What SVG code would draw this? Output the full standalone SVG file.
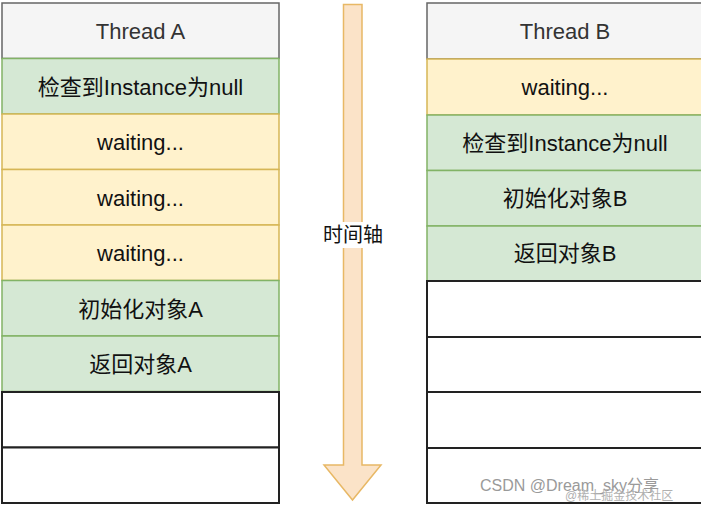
<svg xmlns="http://www.w3.org/2000/svg" width="701" height="505" viewBox="0 0 701 505">
<style>
text{font-family:"Liberation Sans","Noto Sans CJK SC",sans-serif;font-size:22px;text-anchor:middle;dominant-baseline:central;fill:#111}
.h{fill:#f5f5f5;stroke:#666;stroke-width:1.5}
.g{fill:#d5e8d4;stroke:#82b366;stroke-width:1.5}
.y{fill:#fff2cc;stroke:#d6b656;stroke-width:1.5}
.w{fill:#fff;stroke:#222;stroke-width:2}
.ht{fill:#333}
.wm{font-size:16px;fill:#9a9a9a;text-anchor:start}
</style>
<rect width="701" height="505" fill="#fff"/>
<g id="threadA">
<g id="a0"><rect class="h" x="2" y="3" width="277" height="55.5"/><text class="ht" x="140.5" y="31">Thread A</text></g>
<g id="a1"><rect class="g" x="2" y="58.5" width="277" height="55.5"/><text x="140.5" y="87">检查到Instance为null</text></g>
<g id="a2"><rect class="y" x="2" y="114" width="277" height="55.5"/><text x="140.5" y="142">waiting...</text></g>
<g id="a3"><rect class="y" x="2" y="169.5" width="277" height="55.5"/><text x="140.5" y="198">waiting...</text></g>
<g id="a4"><rect class="y" x="2" y="225" width="277" height="55.5"/><text x="140.5" y="253">waiting...</text></g>
<g id="a5"><rect class="g" x="2" y="280.5" width="277" height="55.5"/><text x="140.5" y="309">初始化对象A</text></g>
<g id="a6"><rect class="g" x="2" y="336" width="277" height="55.5"/><text x="140.5" y="364">返回对象A</text></g>
<g id="a7"><rect class="w" x="2" y="392" width="277" height="55.5"/></g>
<g id="a8"><rect class="w" x="2" y="447.5" width="277" height="55.5"/></g>
</g>
<g id="threadB">
<g id="b0"><rect class="h" x="427" y="3" width="280" height="56"/><text class="ht" x="565" y="31">Thread B</text></g>
<g id="b1"><rect class="y" x="427" y="59" width="280" height="56"/><text x="565" y="87">waiting...</text></g>
<g id="b2"><rect class="g" x="427" y="115" width="280" height="55.5"/><text x="565" y="143">检查到Instance为null</text></g>
<g id="b3"><rect class="g" x="427" y="170.5" width="280" height="55.5"/><text x="565" y="198">初始化对象B</text></g>
<g id="b4"><rect class="g" x="427" y="226" width="280" height="55"/><text x="565" y="253">返回对象B</text></g>
<g id="b5"><rect class="w" x="427" y="281" width="280" height="56"/></g>
<g id="b6"><rect class="w" x="427" y="337" width="280" height="55"/></g>
<g id="b7"><rect class="w" x="427" y="392" width="280" height="56"/></g>
<g id="b8"><rect class="w" x="427" y="448" width="280" height="55"/></g>
</g>
<g id="connectors">
<g id="timeline">
<path d="M343.5 4.5 H362 V465 H381 L352.5 500 L324 465 H343.5 Z" fill="#fbe3c8" stroke="#e8b865" stroke-width="1.5"/>
<rect x="322" y="222" width="62" height="26" fill="#fff"/>
<text x="353" y="235" style="font-size:20px">时间轴</text>
</g>
</g>
<text class="wm" x="480" y="485">CSDN @Dream_sky分享</text>
<text class="wm" x="565" y="496" style="font-size:12px;fill:#b0b0b0">@稀土掘金技术社区</text>
</svg>
